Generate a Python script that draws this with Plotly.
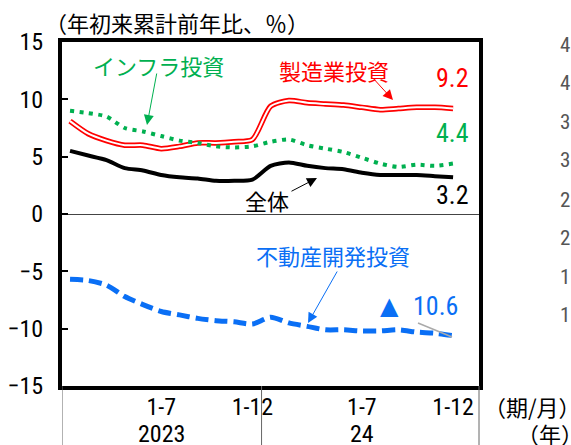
import plotly.graph_objects as go

# ---------------- data ----------------
periods = ["1-2", "1-3", "1-4", "1-5", "1-6", "1-7", "1-8", "1-9", "1-10", "1-11", "1-12"]
categories = [f"2023/{p}" for p in periods] + [f"2024/{p}" for p in periods]

total = [5.5, 5.1, 4.7, 4.0, 3.8, 3.4, 3.2, 3.1, 2.9, 2.9, 3.0,
         4.2, 4.5, 4.2, 4.0, 3.9, 3.6, 3.4, 3.4, 3.4, 3.3, 3.2]
manufacturing = [8.1, 7.0, 6.4, 6.0, 6.0, 5.7, 5.9, 6.2, 6.2, 6.3, 6.5,
                 9.4, 9.9, 9.7, 9.6, 9.5, 9.3, 9.1, 9.2, 9.3, 9.3, 9.2]
infrastructure = [9.0, 8.8, 8.5, 7.5, 7.2, 6.8, 6.4, 6.2, 5.9, 5.8, 5.9,
                  6.3, 6.5, 6.0, 5.7, 5.4, 4.9, 4.4, 4.1, 4.3, 4.2, 4.4]
real_estate = [-5.7, -5.8, -6.2, -7.2, -7.9, -8.5, -8.8, -9.1, -9.3, -9.4, -9.6,
               -9.0, -9.5, -9.8, -10.1, -10.1, -10.2, -10.2, -10.1, -10.3, -10.4, -10.6]

tick_vals = ["2023/1-7", "2023/1-12", "2024/1-7", "2024/1-12"]
tick_text = ["1-7", "1-12", "1-7", "1-12"]
years = ["2023", "24"]
year_at = ["2023/1-7", "2024/1-7"]
y_ticks = [-15, -10, -5, 0, 5, 10, 15]
side_labels = ["4", "4", "3", "3", "2", "2", "1", "1"]

# ---------------- style ----------------
RED = "#ff0000"
GREEN = "#00b050"
BLUE = "#0a6ff5"
CJK = "Noto Sans CJK JP"
NUM = "Roboto Condensed, DejaVu Sans Condensed, sans-serif"

W, H = 571, 445
L, R, T, B = 62, 92, 42, 59
PW, PH = W - L - R, H - T - B


def px(x):
    return (x - L) / PW


def py(y):
    return (H - B - y) / PH


fig = go.Figure()
spl = dict(shape="spline", smoothing=0.7)

fig.add_trace(go.Scatter(x=categories, y=manufacturing, mode="lines",
                         line=dict(color=RED, width=5.5, **spl), hoverinfo="skip"))
fig.add_trace(go.Scatter(x=categories, y=manufacturing, mode="lines",
                         line=dict(color="white", width=2, **spl), hoverinfo="skip"))
fig.add_trace(go.Scatter(x=categories, y=infrastructure, mode="lines",
                         line=dict(color=GREEN, width=4, dash="4px,5.5px", **spl), hoverinfo="skip"))
fig.add_trace(go.Scatter(x=categories, y=total, mode="lines",
                         line=dict(color="black", width=4, **spl), hoverinfo="skip"))
fig.add_trace(go.Scatter(x=categories, y=real_estate, mode="lines",
                         line=dict(color=BLUE, width=5, dash="13px,6px", **spl), hoverinfo="skip"))

ann = []


def text(t, x, y, size=22, color="black", family=CJK, xanchor="center"):
    ann.append(dict(text=t, x=px(x), y=py(y), xref="paper", yref="paper",
                    showarrow=False, xanchor=xanchor, yanchor="middle",
                    font=dict(family=family, size=size, color=color)))


def arrow(x0, y0, x1, y1, color):
    ann.append(dict(text="", x=px(x1), y=py(y1), xref="paper", yref="paper",
                    ax=x0 - x1, ay=y0 - y1, showarrow=True, arrowhead=2,
                    arrowsize=2, arrowwidth=1, arrowcolor=color))


text("（年初来累計前年比、％）", 43, 22, xanchor="left")
text("インフラ投資", 158, 65, color=GREEN)
arrow(157, 72, 147, 125, GREEN)
text("製造業投資", 334, 70, color=RED)
arrow(372, 77, 393, 100, RED)
text("9.2", 452, 78, size=26, color=RED, family=NUM)
text("4.4", 452, 133, size=26, color=GREEN, family=NUM)
text("3.2", 452, 195, size=26, color="black", family=NUM)
text("全体", 267, 200)
arrow(290, 192, 317, 178, "black")
text("不動産開発投資", 333, 255, color=BLUE)
arrow(338, 270, 308, 323, BLUE)
text("▲", 389, 306, size=24, color=BLUE, family="DejaVu Sans")
text("10.6", 435, 306, size=26, color=BLUE, family=NUM)
text("（期/月）", 482, 406, xanchor="left")
text("（年）", 515, 433, xanchor="left")
for lab, c in zip(years, year_at):
    ann.append(dict(text=lab, x=categories.index(c), y=py(434), xref="x", yref="paper",
                    showarrow=False, xanchor="center", yanchor="middle",
                    font=dict(family=NUM, size=24, color="black")))
side_y = [45, 83, 122, 160, 200, 238, 277, 315]
for lab, yy in zip(side_labels, side_y):
    text(lab, 565, yy, size=21, color="#555555", family=NUM)

shapes = [
    # leader line for the ▲10.6 label
    dict(type="line", xref="paper", yref="paper", x0=px(418), y0=py(323), x1=px(452), y1=py(337),
         line=dict(color="#aaaaaa", width=1.5)),
]
for xs in [-0.44, 10.5]:
    shapes.append(dict(type="line", xref="x", yref="paper", x0=xs, x1=xs, y0=0, y1=py(H),
                       line=dict(color="#666666", width=1)))
shapes.append(dict(type="line", xref="paper", yref="paper", x0=1, x1=1, y0=0, y1=py(H),
                   line=dict(color="#666666", width=1)))

fig.update_layout(
    width=W, height=H,
    margin=dict(l=L, r=R, t=T, b=B, pad=0, autoexpand=False),
    paper_bgcolor="white", plot_bgcolor="white",
    showlegend=False,
    annotations=ann, shapes=shapes,
    xaxis=dict(type="category", categoryorder="array", categoryarray=categories,
               range=[-0.44, 22.42], showgrid=False, zeroline=False, automargin=False,
               showline=True, mirror=True, linecolor="black", linewidth=4,
               tickmode="array", tickvals=tick_vals, ticktext=tick_text, ticks="",
               ticklabelstandoff=-4,
               tickfont=dict(family=NUM, size=24, color="black"), fixedrange=True),
    yaxis=dict(range=[-15, 15], tickmode="array", tickvals=y_ticks, automargin=False,
               showgrid=False, zeroline=True, zerolinecolor="#444444", zerolinewidth=1,
               showline=True, mirror=True, linecolor="black", linewidth=4,
               ticks="inside", ticklen=6, tickwidth=1.5, tickcolor="black",
               ticklabelstandoff=10,
               tickfont=dict(family=NUM, size=24, color="black"), fixedrange=True),
)

fig.write_html("out.html", config={"displayModeBar": False},
               post_script="document.body.style.margin='0';document.body.style.overflow='hidden';")
